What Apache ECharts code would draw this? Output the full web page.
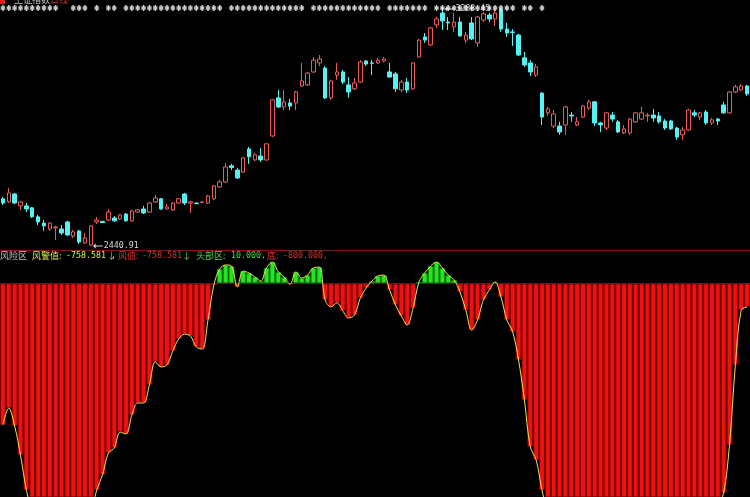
<!DOCTYPE html>
<html><head><meta charset="utf-8">
<script src="https://cdn.jsdelivr.net/npm/echarts@6/dist/echarts.min.js"></script>
<style>html,body{margin:0;padding:0;background:#000;overflow:hidden}#c{width:750px;height:497px}</style>
</head><body><div id="c"></div>
<script>
// trading days (index only used as category)
const days = [
'12-12','12-13','12-14','12-17','12-18','12-19','12-20','12-21','12-24','12-25','12-26','12-27','12-28',
'01-02','01-03','01-04','01-07','01-08','01-09','01-10','01-11','01-14','01-15','01-16','01-17','01-18',
'01-21','01-22','01-23','01-24','01-25','01-28','01-29','01-30','01-31','02-01',
'02-11','02-12','02-13','02-14','02-15','02-18','02-19','02-20','02-21','02-22','02-25','02-26','02-27','02-28',
'03-01','03-04','03-05','03-06','03-07','03-08','03-11','03-12','03-13','03-14','03-15','03-18','03-19','03-20','03-21','03-22',
'03-25','03-26','03-27','03-28','03-29','04-01','04-02','04-03','04-04','04-08','04-09','04-10','04-11','04-12',
'04-15','04-16','04-17','04-18','04-19','04-22','04-23','04-24','04-25','04-26','04-29','04-30',
'05-06','05-07','05-08','05-09','05-10','05-13','05-14','05-15','05-16','05-17','05-20','05-21','05-22','05-23','05-24',
'05-27','05-28','05-29','05-30','05-31','06-03','06-04','06-05','06-06','06-10','06-11','06-12','06-13','06-14',
'06-17','06-18','06-19','06-20','06-21','06-24','06-25'];

const openP = [
2608,2597,2625,2583,2583,2576,2544,2522,2501,2505,
2501,2526,2476,2494,2452,2444,2526,2528,2533,2540,
2537,2554,2530,2561,2572,2561,2597,2608,2572,2569,
2593,2625,2593,2593,2595,2593,2608,2650,2668,2725,
2710,2703,2785,2746,2760,2746,2831,2966,2934,2948,
2948,3008,3012,3058,3090,3072,2966,3047,3058,3012,
2998,3022,3097,3090,3090,3097,3058,3051,2994,3022,
2998,3111,3182,3154,3225,3267,3235,3218,3235,3171,
3232,3161,3242,3260,3246,3278,3210,3200,3189,3108,
3090,3047,2983,2913,2866,2866,2870,2905,2870,2898,
2930,2952,2877,2859,2905,2881,2842,2842,2881,2891,
2902,2905,2902,2884,2884,2859,2835,2852,2913,2898,
2916,2877,2891,2941,2913,2987,2994,3008];
const closeP = [
2593,2629,2593,2597,2572,2544,2526,2512,2522,2508,
2487,2480,2491,2455,2469,2512,2533,2524,2561,2530,
2551,2530,2565,2569,2558,2593,2611,2572,2579,2593,
2608,2593,2597,2591,2597,2618,2654,2668,2721,2719,
2682,2753,2757,2764,2746,2803,2959,2934,2952,2937,
2987,3026,3054,3100,3104,2966,3026,3058,3022,2987,
3019,3093,3086,3089,3100,3104,3040,2998,3022,2994,
3090,3171,3171,3214,3246,3239,3232,3235,3186,3189,
3175,3253,3264,3246,3267,3210,3196,3198,3118,3083,
3058,3076,2898,2927,2909,2845,2934,2902,2881,2937,
2952,2877,2870,2913,2891,2845,2856,2891,2913,2913,
2905,2895,2881,2859,2856,2827,2852,2923,2905,2913,
2877,2888,2884,2913,2987,3005,3008,2980];
const lowP = [
2586,2593,2590,2569,2561,2540,2515,2494,2494,2462,
2480,2476,2469,2448,2448,2440.91,2519,2522,2530,2526,
2533,2526,2526,2558,2554,2558,2593,2569,2569,2565,
2590,2586,2558,2590,2593,2590,2604,2647,2664,2710,
2679,2700,2732,2742,2739,2742,2827,2930,2923,2923,
2923,3005,3008,3054,3079,2962,2959,3030,3015,2966,
2994,3019,3079,3047,3086,3093,3037,2987,2987,2983,
2994,3108,3161,3150,3214,3207,3207,3200,3182,3161,
3171,3147,3235,3235,3221,3200,3182,3150,3115,3076,
3044,3040,2870,2902,2859,2835,2835,2881,2866,2895,
2923,2866,2845,2852,2881,2842,2838,2835,2877,2888,
2881,2881,2874,2852,2852,2817,2817,2849,2898,2888,
2870,2870,2870,2909,2909,2983,2991,2973];
const highP = [
2615,2647,2629,2601,2593,2579,2551,2533,2526,2512,
2515,2530,2498,2498,2487,2515,2544,2530,2572,2547,
2554,2558,2569,2572,2583,2597,2622,2611,2590,2597,
2611,2629,2601,2595,2599,2622,2657,2675,2735,2732,
2718,2757,2792,2771,2788,2806,2962,2994,2994,2962,
2991,3090,3058,3111,3118,3079,3030,3090,3065,3040,
3037,3100,3100,3100,3108,3111,3090,3058,3030,3037,
3093,3175,3196,3218,3253,3288.45,3253,3267,3253,3200,
3253,3257,3271,3267,3281,3285,3232,3210,3193,3129,
3100,3086,2987,2934,2923,2881,2937,2916,2898,2941,
2959,2955,2881,2916,2916,2888,2870,2895,2916,2934,
2913,2927,2916,2891,2888,2863,2863,2927,2923,2916,
2923,2895,2895,2952,2991,3012,3015,3012];

// risk indicator (风值)
const risk = [
-530,-467,-534,-643,-774,-860,-920,-970,-1010,-1040,
-1050,-1040,-1010,-970,-920,-870,-774,-717,-635,-616,
-557,-564,-493,-448,-448,-380,-294,-313,-305,-253,
-208,-190,-197,-238,-246,-137,-6,54,69,65,
-13,46,39,24,9,58,80,43,24,-3,
43,20,31,58,61,-62,-88,-73,-103,-130,
-118,-55,-17,9,28,31,-25,-81,-122,-156,
-92,5,39,65,80,58,31,13,-32,-100,
-175,-137,-62,-25,5,-51,-137,-182,-287,-437,
-612,-661,-774,-860,-900,-945,-985,-1015,-1040,-1065,
-1080,-1095,-1100,-1098,-1090,-1082,-1070,-1062,-1050,-1040,
-1032,-1020,-1010,-1000,-990,-978,-965,-950,-930,-912,
-890,-860,-830,-785,-605,-305,-100,-88];

// days carrying a signal marker on the top row
const signalDays = [0,1,2,3,4,5,6,7,8,9,12,13,14,16,18,19,
21,22,23,24,25,26,27,28,29,30,31,32,33,34,35,36,37,
39,40,41,42,43,44,45,46,47,48,49,50,51,
53,54,55,56,57,58,59,60,61,62,63,64,
66,67,68,69,70,71,72,
74,75,76,77,78,79,80,81,82,83,84,85,86,87,89,90,92];

const lowLabel = '2440.91', highLabel = '3288.45';
const lowIdx = 15, highIdx = 75;

const candles = days.map((d,i)=>[openP[i],closeP[i],lowP[i],highP[i]]);
const riskBars = risk.map(v=>({value:v, itemStyle:{
  color: v>=0 ? '#22e622' : '#ee1111',
  borderColor: v>=0 ? '#0c7a0c' : '#7a0000'}}));
const sig = signalDays.map(i=>[i,1]);

const arrowL = 'path://M0,3L4,0V2.4H14V3.6H4V6Z';
const star = 'path://M1.6,0h1.8v1.8l1.3,-0.8l0.7,1.2l-1.4,0.8l1.4,0.8l-0.7,1.2l-1.3,-0.8v1.8h-1.8v-1.8l-1.3,0.8l-0.7,-1.2l1.4,-0.8l-1.4,-0.8l0.7,-1.2l1.3,0.8z';

const G = {left:-2, width:755};
const chart = echarts.init(document.getElementById('c'), null, {renderer:'canvas'});
const CJK = '"Noto Sans CJK SC"', MONO = '"DejaVu Sans Mono"';
const txt = (x,y,t,c,fam,size)=>({type:'text', left:x, top:y, silent:true,
  style:{text:t, fill:c, font:(size||9)+'px '+(fam||CJK)}});
chart.setOption({
  animation:false,
  backgroundColor:'#000',
  grid:[
    Object.assign({top:0, height:250}, G),
    Object.assign({top:250, height:247}, G),
    Object.assign({top:4, height:8}, G)
  ],
  xAxis:[
    {type:'category', data:days, gridIndex:0, boundaryGap:true,
     axisLine:{show:true, onZero:false, lineStyle:{color:'#7a1a1a', width:1}},
     axisTick:{show:false}, axisLabel:{show:false}, splitLine:{show:false}},
    {type:'category', data:days, gridIndex:1, boundaryGap:true, show:false},
    {type:'category', data:days, gridIndex:2, boundaryGap:true, show:false}
  ],
  yAxis:[
    {type:'value', gridIndex:0, min:2426.5, max:3313.2, show:false, splitLine:{show:false}},
    {type:'value', gridIndex:1, min:-800, max:125, show:false, splitLine:{show:false}},
    {type:'value', gridIndex:2, min:0, max:2, show:false, splitLine:{show:false}}
  ],
  series:[
    {type:'candlestick', xAxisIndex:0, yAxisIndex:0, data:candles, barWidth:4,
     itemStyle:{color:'#000', color0:'#54f2f2', borderColor:'#ea5c5c', borderColor0:'#54f2f2', borderWidth:1},
     markPoint:{silent:true, data:[
       {coord:[lowIdx, 2440.91], symbol:arrowL, symbolSize:[10,5], symbolOffset:[7,0],
        itemStyle:{color:'#d8d8d8'},
        label:{show:true, position:'right', distance:1, formatter:lowLabel, color:'#d8d8d8', fontSize:8.3, fontFamily:MONO}},
       {coord:[highIdx, 3288.45], symbol:arrowL, symbolSize:[10,5], symbolOffset:[7,2],
        itemStyle:{color:'#c8c8c8'},
        label:{show:true, position:'right', distance:1, formatter:highLabel, color:'#c8c8c8', fontSize:8.3, fontFamily:MONO}}
     ]}},
    {type:'bar', xAxisIndex:1, yAxisIndex:1, data:riskBars, barCategoryGap:'0%', clip:true,
     itemStyle:{borderWidth:1},
     markLine:{silent:true, symbol:'none', label:{show:false},
       lineStyle:{color:'#5a2020', width:1, type:'solid'}, data:[{yAxis:0}]}},
    {type:'line', xAxisIndex:1, yAxisIndex:1, data:risk, smooth:0.35, symbol:'none', clip:true,
     lineStyle:{color:'#f2e35a', width:1}, z:5},
    {type:'scatter', xAxisIndex:2, yAxisIndex:2, data:sig, symbol:star, symbolSize:[5,6],
     itemStyle:{color:'#ffffff'}, z:6}
  ],
  graphic:[
    {type:'rect', left:0, top:0, shape:{width:5, height:4}, style:{fill:'#e02020'}, silent:true},
    txt(14,-5,'上证指数','#bdbdbd'),
    txt(50,-5,'日线','#e03030'),
    txt(0,251,'风险区','#c8c8c8'),
    txt(32,251,'风警值:','#e6e64a'),
    txt(66,251.5,'-758.581','#e6e64a',MONO,8.3),
    txt(107,251,'↓','#66dd66'),
    txt(111,251.5,',','#e6e64a',MONO,8.3),
    txt(118,251,'风值:','#e03030'),
    txt(142,251.5,'-758.581','#e03030',MONO,8.3),
    txt(182,251,'↓','#66dd66'),
    txt(186,251.5,',','#e03030',MONO,8.3),
    txt(196,251,'头部区:','#44dd44'),
    txt(231,251.5,'10.000,','#44dd44',MONO,8.3),
    txt(267,251,'底:','#e03030'),
    txt(283,251.5,'-800.000,','#e03030',MONO,8.3)
  ]
});
</script></body></html>
